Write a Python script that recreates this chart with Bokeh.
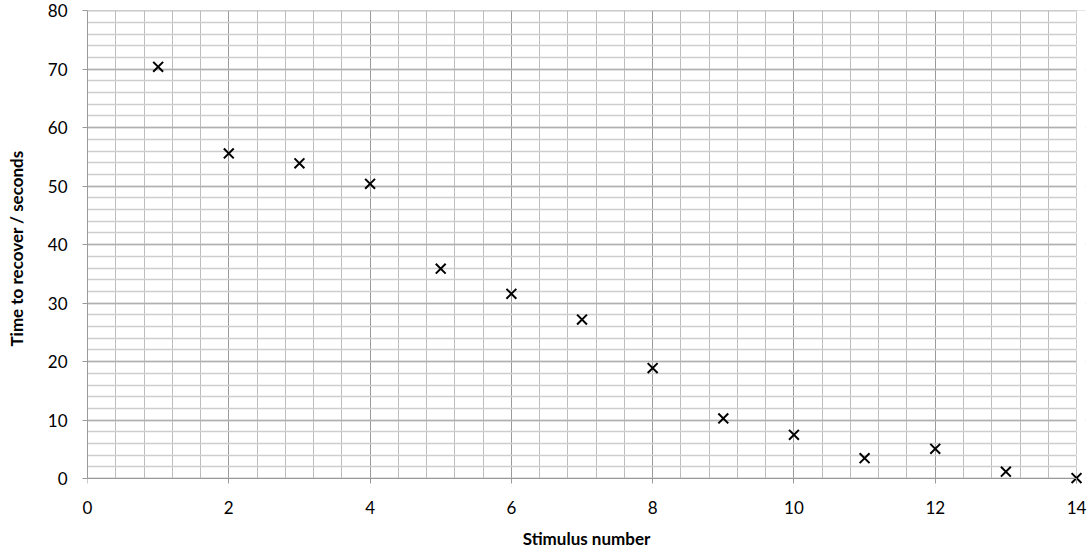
from bokeh.plotting import figure
from bokeh.models import Range1d, SingleIntervalTicker, ColumnDataSource, LinearAxis
from bokeh.embed import file_html
from bokeh.resources import INLINE

stimulus = [1, 2, 3, 4, 5, 6, 7, 8, 9, 10, 11, 12, 13, 14]
recover_time = [70.4, 55.6, 53.9, 50.4, 35.9, 31.6, 27.2, 18.9, 10.3, 7.5, 3.5, 5.1, 1.2, 0.1]

x_label = "Stimulus number"
y_label = "Time to recover / seconds"

X_MIN, X_MAX = 0, 14
Y_MIN, Y_MAX = 0, 80
# small extra room so that the marker at the corner is not clipped
X_PAD, Y_PAD = 0.127, 1.34

src = ColumnDataSource(dict(x=stimulus, y=recover_time))

p = figure(width=1089, height=551, output_backend="svg", toolbar_location=None,
           x_range=Range1d(X_MIN, X_MAX + X_PAD), y_range=Range1d(Y_MIN - Y_PAD, Y_MAX + 0.03),
           x_axis_location=None,
           min_border_left=87, min_border_right=4, min_border_top=10, min_border_bottom=40)
p.outline_line_color = None
p.background_fill_color = "white"
p.border_fill_color = "white"

AXIS_GREY = "#9a9a9a"

# axis line + ticks at y = 0
x_line_axis = LinearAxis(ticker=SingleIntervalTicker(interval=2, num_minor_ticks=5))
x_line_axis.fixed_location = 0
x_line_axis.bounds = (X_MIN, X_MAX)
x_line_axis.axis_line_color = AXIS_GREY
x_line_axis.major_tick_line_color = AXIS_GREY
x_line_axis.major_tick_in = 0
x_line_axis.major_tick_out = 5
x_line_axis.minor_tick_line_color = None
x_line_axis.major_label_text_alpha = 0
x_line_axis.major_label_text_font_size = "1px"
p.add_layout(x_line_axis, "below")

# labels only, at the bottom of the frame
x_label_axis = LinearAxis(ticker=SingleIntervalTicker(interval=2, num_minor_ticks=5))
x_label_axis.bounds = (X_MIN, X_MAX)
x_label_axis.axis_line_color = None
x_label_axis.major_tick_line_color = None
x_label_axis.minor_tick_line_color = None
x_label_axis.major_tick_in = 0
x_label_axis.major_tick_out = 0
x_label_axis.major_label_standoff = 10
x_label_axis.axis_label = x_label
x_label_axis.axis_label_standoff = 11
p.add_layout(x_label_axis, "below")

p.yaxis.ticker = SingleIntervalTicker(interval=10, num_minor_ticks=5)
p.yaxis.bounds = (Y_MIN, Y_MAX)
p.yaxis.axis_line_color = AXIS_GREY
p.yaxis.major_tick_line_color = AXIS_GREY
p.yaxis.major_tick_in = 0
p.yaxis.major_tick_out = 5
p.yaxis.minor_tick_line_color = None
p.yaxis.major_label_standoff = 15
p.yaxis.axis_label = y_label
p.yaxis.axis_label_standoff = 18

for ax in (x_label_axis, p.yaxis[0]):
    ax.major_label_text_font = "Lato"
    ax.major_label_text_font_size = "17px"
    ax.major_label_text_color = "black"
    ax.axis_label_text_font = "Lato"
    ax.axis_label_text_font_size = "17px"
    ax.axis_label_text_font_style = "bold"
    ax.axis_label_text_color = "black"

p.xgrid.ticker = SingleIntervalTicker(interval=2, num_minor_ticks=5)
p.xgrid.grid_line_color = AXIS_GREY
p.xgrid.grid_line_width = 1
p.xgrid.minor_grid_line_color = "#bdbdbd"
p.xgrid.minor_grid_line_width = 1
p.ygrid.grid_line_color = "#b0b0b0"
p.ygrid.grid_line_width = 1.5
p.ygrid.minor_grid_line_color = "#cdcdcd"
p.ygrid.minor_grid_line_width = 1.5

# hide grid overshoot in the padding strips
p.quad(left=X_MIN, right=X_MAX + 2 * X_PAD, bottom=Y_MIN - 2 * Y_PAD, top=Y_MIN,
       fill_color="white", line_color=None)
p.quad(left=X_MAX, right=X_MAX + 2 * X_PAD, bottom=Y_MIN - 2 * Y_PAD, top=Y_MAX + 1,
       fill_color="white", line_color=None)

p.scatter("x", "y", source=src, marker="x", size=14, line_width=2, line_color="black")

open("out.html", "w").write(file_html(p, INLINE))
